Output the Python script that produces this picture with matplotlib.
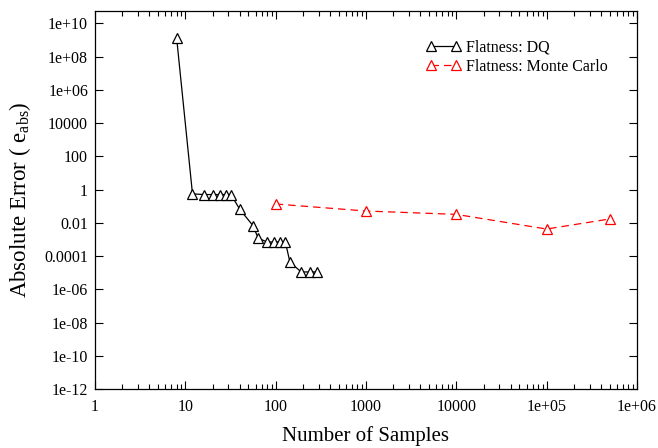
import matplotlib
matplotlib.use("Agg")
import matplotlib.pyplot as plt
from matplotlib.ticker import FixedLocator, LogLocator, NullFormatter, NullLocator

plt.rcParams['font.family'] = ['Liberation Serif', 'DejaVu Serif']
plt.rcParams['mathtext.fontset'] = 'custom'
plt.rcParams['mathtext.rm'] = 'Liberation Serif'
plt.rcParams['mathtext.it'] = 'Liberation Serif:italic'

# flatness error, DQ
dq_n = [8, 12, 16, 20, 24, 28, 32, 40, 56, 64, 80, 96, 112, 128, 144, 192, 240, 288]
dq_err = [1.4e9, 0.55, 0.5, 0.5, 0.5, 0.5, 0.5, 0.065, 0.0068, 0.0012,
          0.0007, 0.0007, 0.0007, 0.0007, 4.2e-5, 1.1e-5, 1.1e-5, 1.1e-5]

# flatness error, Monte Carlo
mc_n = [100, 1000, 10000, 100000, 500000]
mc_err = [0.135, 0.051, 0.032, 0.0042, 0.017]

xticks = [1, 10, 100, 1000, 10000, 1e5, 1e6]
xlabels = ['1', '10', '100', '1000', '10000', '1e+05', '1e+06']
yticks = [1e10, 1e8, 1e6, 1e4, 1e2, 1, 1e-2, 1e-4, 1e-6, 1e-8, 1e-10, 1e-12]
ylabels = ['1e+10', '1e+08', '1e+06', '10000', '100', '1', '0.01', '0.0001',
           '1e-06', '1e-08', '1e-10', '1e-12']

fig = plt.figure(figsize=(6.58, 4.48), dpi=100)
ax = fig.add_axes([95 / 658, 1 - 389 / 448, (637 - 95) / 658, (389 - 11) / 448])

ax.plot(dq_n, dq_err, color='black', lw=0.9, marker='^', ms=7.5, mfc='white',
        mec='black', mew=0.9, label='Flatness: DQ')
ax.plot(mc_n, mc_err, color='red', lw=0.9, ls=(0, (6, 4)), marker='^', ms=7.5,
        mfc='white', mec='red', mew=0.9, label='Flatness: Monte Carlo')

ax.set_xscale('log')
ax.set_yscale('log')
ax.set_xlim(1, 1e6)
ax.set_ylim(1e-12, 5.5e10)

ax.xaxis.set_major_locator(FixedLocator(xticks))
ax.set_xticklabels(xlabels)
ax.xaxis.set_minor_locator(LogLocator(base=10, subs=range(2, 10), numticks=20))
ax.xaxis.set_minor_formatter(NullFormatter())
ax.yaxis.set_major_locator(FixedLocator(yticks))
ax.set_yticklabels(ylabels)
ax.yaxis.set_minor_locator(NullLocator())

ax.tick_params(which='both', direction='in', top=True, right=True, labelsize=11.5)
ax.tick_params(axis='x', which='major', length=6, width=0.8, pad=7)
ax.tick_params(axis='y', which='major', length=6, width=0.8, pad=5)
ax.tick_params(which='minor', length=3.5, width=0.8)
for s in ax.spines.values():
    s.set_linewidth(0.9)

ax.set_xlabel('Number of Samples', fontsize=15, labelpad=8)
ax.set_ylabel(r'Absolute Error ( e$_{\rm abs}$)', fontsize=16.5)
ax.yaxis.set_label_coords(-62 / 542, 0.5)

ax.legend(loc='upper left', bbox_to_anchor=((426 - 95) / 542, 0.925), borderaxespad=0,
          borderpad=0, frameon=False, fontsize=11.5, numpoints=2, handlelength=2.2,
          handletextpad=0.3, labelspacing=0.2, markerscale=0.9)

fig.savefig('out.png', dpi=100)
